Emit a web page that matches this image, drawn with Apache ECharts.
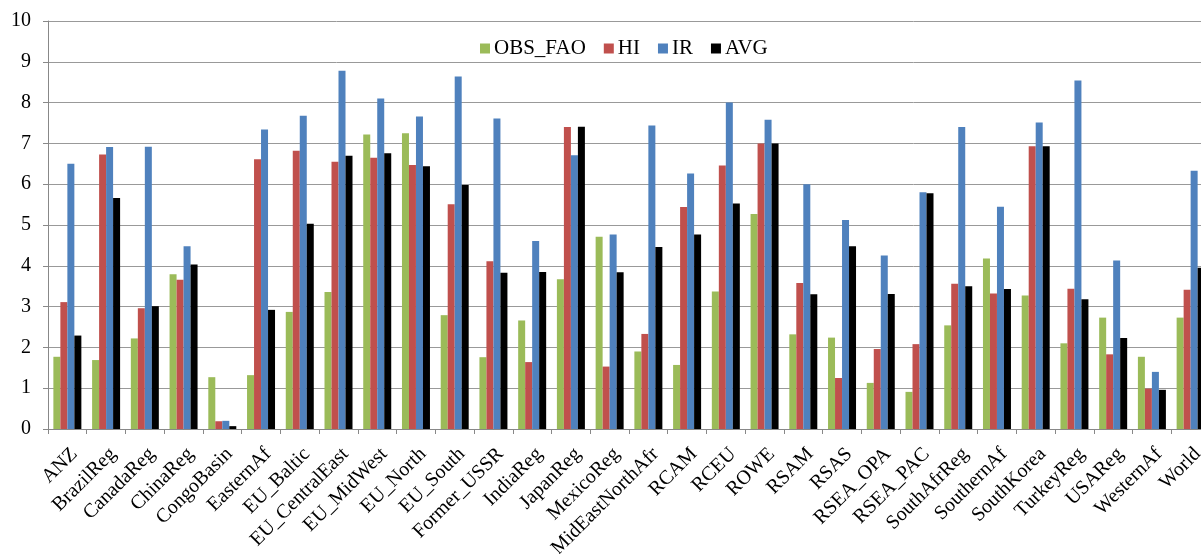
<!DOCTYPE html>
<html><head><meta charset="utf-8">
<script src="https://cdn.jsdelivr.net/npm/echarts@6/dist/echarts.min.js"></script>
<style>html,body{margin:0;padding:0;background:#fff}#c{width:1201px;height:554px}</style>
</head><body><div id="c"></div>
<script>
const categories = ["ANZ","BrazilReg","CanadaReg","ChinaReg","CongoBasin","EasternAf","EU_Baltic","EU_CentralEast","EU_MidWest","EU_North","EU_South","Former_USSR","IndiaReg","JapanReg","MexicoReg","MidEastNorthAfr","RCAM","RCEU","ROWE","RSAM","RSAS","RSEA_OPA","RSEA_PAC","SouthAfrReg","SouthernAf","SouthKorea","TurkeyReg","USAReg","WesternAf","World"];
const obsFao = [1.77,1.69,2.22,3.79,1.27,1.32,2.87,3.36,7.22,7.25,2.79,1.76,2.66,3.67,4.71,1.90,1.57,3.37,5.27,2.32,2.24,1.13,0.91,2.54,4.18,3.27,2.10,2.73,1.77,2.73];
const hi = [3.11,6.73,2.96,3.66,0.19,6.61,6.82,6.55,6.65,6.47,5.51,4.11,1.64,7.40,1.53,2.33,5.44,6.46,7.00,3.58,1.25,1.96,2.08,3.56,3.32,6.93,3.44,1.83,0.99,3.41];
const ir = [6.50,6.91,6.92,4.48,0.20,7.34,7.68,8.78,8.10,7.66,8.64,7.61,4.61,6.71,4.77,7.44,6.26,8.00,7.58,6.00,5.12,4.25,5.80,7.40,5.45,7.51,8.54,4.13,1.40,6.33];
const avg = [2.29,5.66,3.01,4.03,0.07,2.92,5.03,6.70,6.76,6.44,5.98,3.83,3.85,7.41,3.84,4.46,4.77,5.53,7.00,3.30,4.48,3.31,5.78,3.50,3.43,6.93,3.18,2.23,0.96,3.95];
const yTicks = [0,1,2,3,4,5,6,7,8,9,10];

const font = "'Liberation Serif','Times New Roman',serif";
const chart = echarts.init(document.getElementById('c'), null, {renderer:'canvas'});
const mk = (name, data, color) => ({
  name, type:'bar', data, barWidth:7, barGap:'0%', barCategoryGap:'27%',
  itemStyle:{color}, animation:false
});
chart.setOption({
  animation:false,
  legend:{
    left:480, top:38, padding:0, itemWidth:10, itemHeight:10, itemGap:18,
    icon:'rect',
    textStyle:{fontFamily:font, fontSize:21, color:'#000', padding:[0,0,0,-1]},
    data:['OBS_FAO','HI','IR','AVG']
  },
  grid:{left:48, top:21, width:1162, height:408, containLabel:false, outerBoundsMode:'none'},
  xAxis:{
    type:'category', data:categories,
    axisLine:{lineStyle:{color:'#888', width:1}},
    axisTick:{show:true, alignWithLabel:false, length:5, lineStyle:{color:'#888'}},
    axisLabel:{rotate:45, interval:0, fontFamily:font, fontSize:20, color:'#000', margin:15, verticalAlign:'top'}
  },
  yAxis:{
    type:'value', min:0, max:10, interval:1,
    axisLine:{show:true, lineStyle:{color:'#888', width:1}},
    axisTick:{show:true, length:5, lineStyle:{color:'#888'}},
    splitLine:{lineStyle:{color:'#999', width:1}},
    axisLabel:{fontFamily:font, fontSize:20, color:'#000', margin:17,
      formatter: v => yTicks.includes(v) ? String(v) : ''}
  },
  series:[
    mk('OBS_FAO', obsFao, '#9BBB59'),
    mk('HI', hi, '#C0504D'),
    mk('IR', ir, '#4F81BD'),
    mk('AVG', avg, '#000000')
  ]
});
</script></body></html>
